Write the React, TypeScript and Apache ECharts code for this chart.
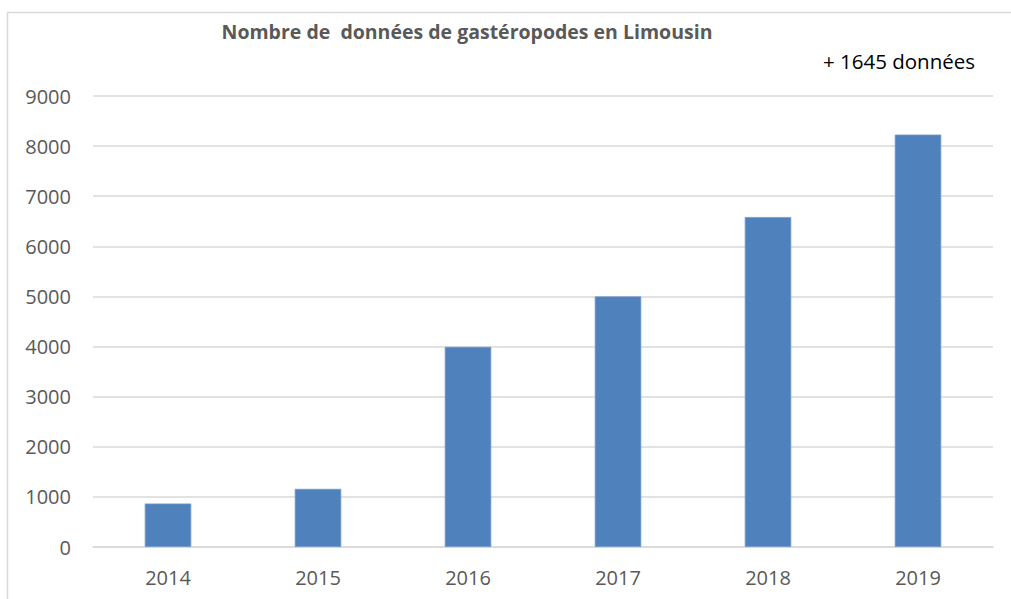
import React, { useEffect, useRef } from "react";
import * as echarts from "echarts";

const years = ["2014", "2015", "2016", "2017", "2018", "2019"];
const counts = [868, 1160, 3995, 5000, 6585, 8230];
const yTicks = { min: 0, max: 9000, interval: 1000 };
const titleText = "Nombre de  données de gastéropodes en Limousin";
const noteText = "+ 1645 données";

export default function App() {
  const ref = useRef<HTMLDivElement>(null);
  useEffect(() => {
    if (!ref.current) return;
    const chart = echarts.init(ref.current, null, { renderer: "svg" });
    const font = "'Open Sans', 'Noto Sans', sans-serif";
    chart.setOption({
      animation: false,
      backgroundColor: "#ffffff",
      grid: { left: 93, right: 18, top: 96, bottom: 52, containLabel: false },
      xAxis: {
        type: "category",
        data: years,
        axisLine: { show: true, lineStyle: { color: "#d9d9d9", width: 1.5 } },
        axisTick: { show: false },
        axisLabel: { color: "#595959", fontFamily: font, fontSize: 20, margin: 20 },
      },
      yAxis: {
        type: "value",
        min: yTicks.min,
        max: yTicks.max,
        interval: yTicks.interval,
        axisLine: { show: false },
        axisTick: { show: false },
        splitLine: { lineStyle: { color: "#d9d9d9", width: 1.5 } },
        axisLabel: {
          color: "#595959",
          fontFamily: font,
          fontSize: 20,
          margin: 22,
          formatter: (v: number) => String(v),
        },
      },
      series: [
        {
          type: "bar",
          data: counts,
          barWidth: "31%",
          itemStyle: { color: "#4f81bd", borderColor: "#7099cc", borderWidth: 0.8 },
        },
      ],
      graphic: [
        {
          type: "rect",
          shape: { x: 7.5, y: 12.5, width: 1020, height: 600 },
          style: { fill: "none", stroke: "#d9d9d9", lineWidth: 1.5 },
          silent: true,
        },
        {
          type: "text",
          x: 467,
          y: 31,
          style: {
            text: titleText,
            fill: "#595959",
            font: `bold 19.5px ${font}`,
            textAlign: "center",
            textVerticalAlign: "middle",
          },
        },
        {
          type: "text",
          x: 975,
          y: 61,
          style: {
            text: noteText,
            fill: "#000000",
            font: `20.5px ${font}`,
            textAlign: "right",
            textVerticalAlign: "middle",
          },
        },
      ],
    });
    return () => chart.dispose();
  }, []);
  return (
    <div
      ref={ref}
      style={{ position: "absolute", left: 0, top: 0, width: 1011, height: 599 }}
    />
  );
}
